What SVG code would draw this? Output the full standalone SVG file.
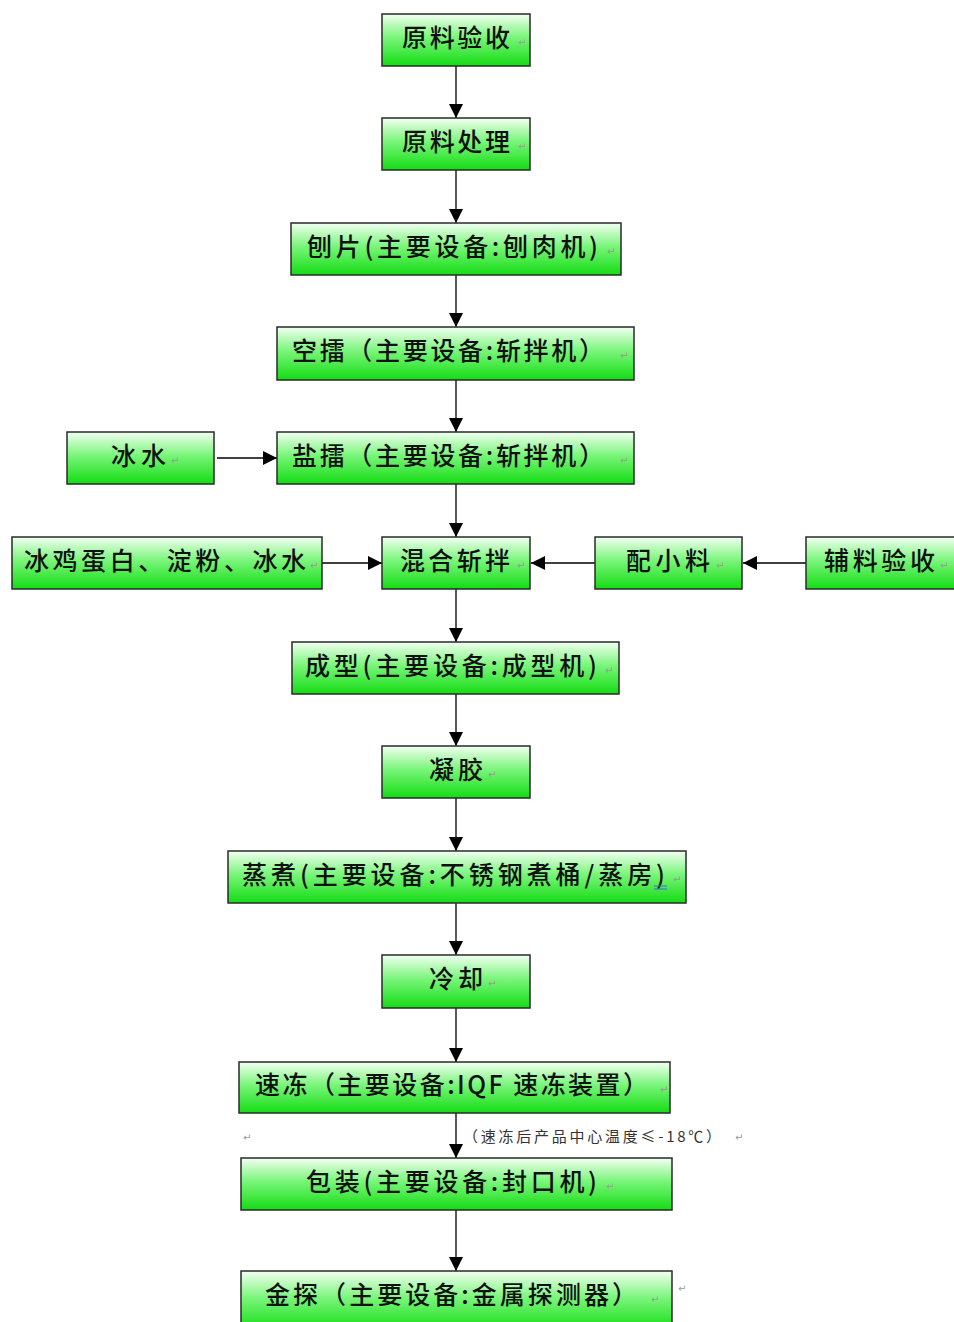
<svg xmlns="http://www.w3.org/2000/svg" width="954" height="1322" viewBox="0 0 954 1322">
<defs>
<linearGradient id="g" x1="0" y1="0" x2="0" y2="1">
<stop offset="0" stop-color="#f2fff2"/>
<stop offset="0.45" stop-color="#7af57a"/>
<stop offset="1" stop-color="#14dc14"/>
</linearGradient>
<marker id="ah" viewBox="0 0 14 14" refX="14" refY="7" markerWidth="14" markerHeight="14" markerUnits="userSpaceOnUse" orient="auto">
<path d="M0,0 L14,7 L0,14 Z" fill="#000"/>
</marker>
<style>
.box{fill:url(#g);stroke:#2a2a2a;stroke-width:1.5}
.t{font-family:"Noto Sans CJK SC","Noto Sans",sans-serif;font-size:25px;font-weight:500;fill:#111}
.pm{font-family:"DejaVu Sans",sans-serif;font-size:10px;fill:#999}
.note{font-family:"Noto Sans CJK SC","Noto Sans",sans-serif;font-size:15px;fill:#333}
.c{stroke:#000;stroke-width:1.3;fill:none;marker-end:url(#ah)}
</style>
</defs>
<rect width="954" height="1322" fill="#fff"/>
<g id="connectors">
<line class="c" x1="456" y1="66" x2="456" y2="118"/>
<line class="c" x1="456" y1="170" x2="456" y2="223"/>
<line class="c" x1="456" y1="275" x2="456" y2="327"/>
<line class="c" x1="456" y1="380" x2="456" y2="432"/>
<line class="c" x1="217" y1="458" x2="277" y2="458"/>
<line class="c" x1="456" y1="484" x2="456" y2="537"/>
<line class="c" x1="322" y1="563" x2="382" y2="563"/>
<line class="c" x1="595" y1="563" x2="531" y2="563"/>
<line class="c" x1="806" y1="563" x2="743" y2="563"/>
<line class="c" x1="456" y1="589" x2="456" y2="642"/>
<line class="c" x1="456" y1="694" x2="456" y2="746"/>
<line class="c" x1="456" y1="798" x2="456" y2="851"/>
<line class="c" x1="456" y1="903" x2="456" y2="955"/>
<line class="c" x1="456" y1="1008" x2="456" y2="1062"/>
<line class="c" x1="456" y1="1113" x2="456" y2="1158"/>
<line class="c" x1="456" y1="1210" x2="456" y2="1271"/>
</g>
<g id="n1"><rect class="box" x="382" y="14" width="148" height="52"/><text class="t" x="402" y="47" textLength="108" lengthAdjust="spacing">原料验收</text><text class="pm" x="518" y="46">↵</text></g>
<g id="n2"><rect class="box" x="382" y="118" width="148" height="52"/><text class="t" x="402" y="151" textLength="108" lengthAdjust="spacing">原料处理</text><text class="pm" x="518" y="150">↵</text></g>
<g id="n3"><rect class="box" x="291" y="223" width="330" height="52"/><text class="t" x="307" y="256" textLength="291" lengthAdjust="spacing">刨片(主要设备:刨肉机)</text><text class="pm" x="607" y="255">↵</text></g>
<g id="n4"><rect class="box" x="277" y="327" width="357" height="53"/><text class="t" x="292" y="360" textLength="312" lengthAdjust="spacing">空擂（主要设备:斩拌机）</text><text class="pm" x="620" y="359">↵</text></g>
<g id="n5"><rect class="box" x="277" y="432" width="357" height="52"/><text class="t" x="292" y="465" textLength="312" lengthAdjust="spacing">盐擂（主要设备:斩拌机）</text><text class="pm" x="620" y="464">↵</text></g>
<g id="n5a"><rect class="box" x="67" y="432" width="147" height="52"/><text class="t" x="111" y="465" textLength="55" lengthAdjust="spacing">冰水</text><text class="pm" x="171" y="464">↵</text></g>
<g id="n6"><rect class="box" x="382" y="537" width="148" height="52"/><text class="t" x="400" y="570" textLength="110" lengthAdjust="spacing">混合斩拌</text><text class="pm" x="517" y="569">↵</text></g>
<g id="n6a"><rect class="box" x="12" y="537" width="310" height="52"/><text class="t" x="24" y="570" textLength="282" lengthAdjust="spacing">冰鸡蛋白、淀粉、冰水</text><text class="pm" x="310" y="569">↵</text></g>
<g id="n6b"><rect class="box" x="595" y="537" width="147" height="52"/><text class="t" x="626" y="570" textLength="84" lengthAdjust="spacing">配小料</text><text class="pm" x="716" y="569">↵</text></g>
<g id="n6c"><rect class="box" x="806" y="537" width="152" height="52"/><text class="t" x="824" y="570" textLength="111" lengthAdjust="spacing">辅料验收</text><text class="pm" x="940" y="569">↵</text></g>
<g id="n7"><rect class="box" x="292" y="642" width="327" height="52"/><text class="t" x="305" y="675" textLength="292" lengthAdjust="spacing">成型(主要设备:成型机)</text><text class="pm" x="605" y="674">↵</text></g>
<g id="n8"><rect class="box" x="382" y="746" width="148" height="52"/><text class="t" x="429" y="779" textLength="54" lengthAdjust="spacing">凝胶</text><text class="pm" x="488" y="778">↵</text></g>
<g id="n9"><rect class="box" x="228" y="851" width="458" height="52"/><text class="t" x="242" y="884" textLength="423" lengthAdjust="spacing">蒸煮(主要设备:不锈钢煮桶/蒸房)</text><line x1="654" y1="886" x2="667" y2="886" stroke="#3a6fd0" stroke-width="1"/><line x1="654" y1="889" x2="667" y2="889" stroke="#3a6fd0" stroke-width="1"/><text class="pm" x="673" y="883">↵</text></g>
<g id="n10"><rect class="box" x="382" y="955" width="148" height="53"/><text class="t" x="429" y="988" textLength="54" lengthAdjust="spacing">冷却</text><text class="pm" x="488" y="987">↵</text></g>
<g id="n11"><rect class="box" x="239" y="1062" width="431" height="51"/><text class="t" x="255" y="1094" textLength="393" lengthAdjust="spacing">速冻（主要设备:IQF 速冻装置）</text><text class="pm" x="660" y="1093">↵</text></g>
<text class="pm" x="243" y="1141">↵</text>
<text class="note" x="463" y="1142" textLength="258" lengthAdjust="spacing">（速冻后产品中心温度≤-18℃）</text>
<text class="pm" x="735" y="1141">↵</text>
<g id="n12"><rect class="box" x="241" y="1158" width="431" height="52"/><text class="t" x="306" y="1191" textLength="291" lengthAdjust="spacing">包装(主要设备:封口机)</text><text class="pm" x="606" y="1190">↵</text></g>
<g id="n13"><rect class="box" x="241" y="1271" width="431" height="60"/><text class="t" x="265" y="1304" textLength="372" lengthAdjust="spacing">金探（主要设备:金属探测器）</text><text class="pm" x="651" y="1303">↵</text></g>
<text class="pm" x="678" y="1292">↵</text>
</svg>
